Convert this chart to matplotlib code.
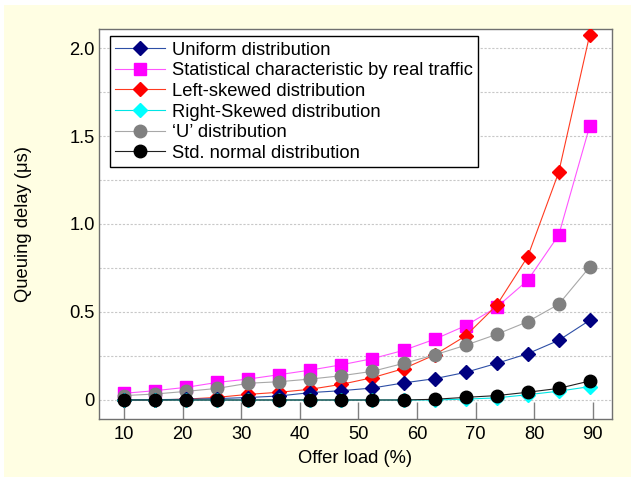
import numpy as np
import matplotlib
matplotlib.use("Agg")
import matplotlib.pyplot as plt
from matplotlib.patches import Rectangle

plt.rcParams['font.family'] = ['Liberation Sans', 'DejaVu Sans']

# offer load (%) of each sample
load = [10, 15.3, 20.6, 25.9, 31.2, 36.5, 41.8, 47.1, 52.4, 57.7, 63.0, 68.3, 73.6, 78.9, 84.2, 89.5]

uniform = [0.0, 0.002, 0.004, 0.008, 0.014, 0.023, 0.042, 0.053, 0.068, 0.097,
           0.121, 0.157, 0.208, 0.263, 0.339, 0.453]
real_traffic = [0.038, 0.053, 0.072, 0.10, 0.119, 0.144, 0.170, 0.20, 0.235, 0.282,
                0.345, 0.422, 0.527, 0.68, 0.937, 1.557]
left_skewed = [0.0, 0.0, 0.005, 0.015, 0.032, 0.044, 0.061, 0.089, 0.127, 0.178,
               0.256, 0.364, 0.538, 0.814, 1.294, 2.076]
right_skewed = [0.0, 0.0, 0.0, 0.0, 0.0, 0.0, 0.0, 0.0, 0.0, 0.0,
                0.0, 0.005, 0.012, 0.03, 0.05, 0.076]
u_dist = [0.025, 0.034, 0.049, 0.066, 0.095, 0.104, 0.119, 0.138, 0.163, 0.208,
          0.256, 0.311, 0.373, 0.445, 0.544, 0.756]
std_normal = [0.0, 0.0, 0.0, 0.0, 0.0, 0.0, 0.0, 0.0, 0.0, 0.0,
              0.004, 0.015, 0.025, 0.044, 0.066, 0.108]

labels = ["Uniform distribution", "Statistical characteristic by real traffic",
          "Left-skewed distribution", "Right-Skewed distribution",
          "\u2018U\u2019 distribution", "Std. normal distribution"]

FS = 13.2

fig = plt.figure(figsize=(6.31, 4.79), dpi=100, facecolor='white')
# yellow panel (image has a thin white strip on top/left)
fig.patches.append(Rectangle((4/631, 2/479), 1 - 4/631, 1 - 7/479,
                             transform=fig.transFigure, facecolor='#FFFEE3',
                             edgecolor='none', zorder=-10))

ax = fig.add_axes([99/631, 60/479, 513/631, 390/479])
ax.set_facecolor('white')

h_uni, = ax.plot(load, uniform, color='#2E4FA6', lw=0.8, marker='D', ms=7,
                 mfc='#000080', mec='#000080', zorder=5)
h_real, = ax.plot(load, real_traffic, color='#FF55FF', lw=0.8, marker='s', ms=8,
                  mfc='#FF00FF', mec='#FF00FF', zorder=2)
h_left, = ax.plot(load, left_skewed, color='#FF3A20', lw=0.8, marker='D', ms=7,
                  mfc='#FF0000', mec='#FF0000', zorder=3)
h_right, = ax.plot(load, right_skewed, color='#00E5E5', lw=0.8, marker='D', ms=7,
                   mfc='#00FFFF', mec='#00FFFF', zorder=6)
h_u, = ax.plot(load, u_dist, color='#A8A8A8', lw=0.8, marker='o', ms=9,
               mfc='#808080', mec='#808080', zorder=4)
h_std, = ax.plot(load, std_normal, color='#202020', lw=0.8, marker='o', ms=9,
                 mfc='#000000', mec='#000000', zorder=7)

ax.set_xlim(5.7, 93.3)
ax.set_ylim(-0.108, 2.108)
ax.set_xticks([10, 20, 30, 40, 50, 60, 70, 80, 90])
ax.set_yticks([0, 0.5, 1.0, 1.5, 2.0])
ax.set_yticklabels(['0', '0.5', '1.0', '1.5', '2.0'])
ax.set_yticks([0.25, 0.75, 1.25, 1.75], minor=True)
ax.yaxis.grid(True, which='both', color='#C8C8C8', linestyle=(0, (2, 1.5)), lw=0.8)
ax.set_axisbelow(True)

ax.tick_params(axis='x', direction='in', length=12, width=1, color='#808080',
               labelsize=FS, pad=5)
ax.tick_params(axis='y', which='both', length=0, labelsize=FS, pad=3)

for s in ax.spines.values():
    s.set_color('#707070')
    s.set_linewidth(1)

ax.set_xlabel('Offer load (%)', fontsize=FS, labelpad=5)
ax.set_ylabel('Queuing delay (\u03bcs)', fontsize=FS)
ax.yaxis.set_label_coords(-0.13, 0.5)

leg = ax.legend([h_uni, h_real, h_left, h_right, h_u, h_std], labels,
                loc='upper left', bbox_to_anchor=(0.021, 0.982), fontsize=FS,
                frameon=True, fancybox=False, edgecolor='black', framealpha=1,
                handlelength=2.7, handletextpad=0.4, labelspacing=0.2,
                borderpad=0.3, borderaxespad=0)
leg.get_frame().set_linewidth(1.0)

fig.savefig('out.png', dpi=100, facecolor=fig.get_facecolor())
